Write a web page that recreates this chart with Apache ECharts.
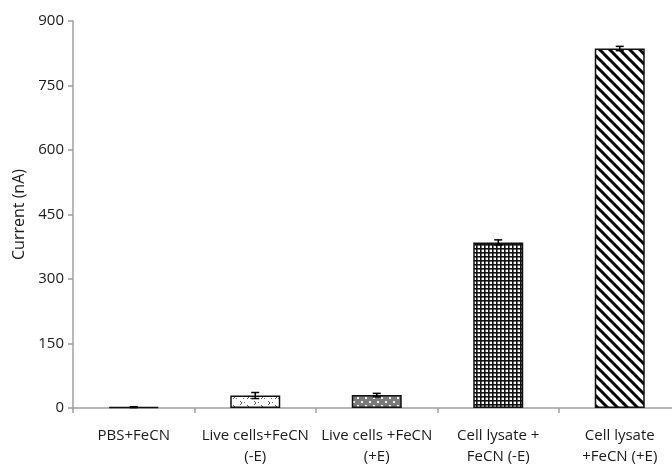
<!DOCTYPE html>
<html>
<head>
<meta charset="utf-8">
<script src="https://cdn.jsdelivr.net/npm/echarts@6/dist/echarts.min.js"></script>
<style>html,body{margin:0;padding:0;background:#fff}#c{width:672px;height:464px}</style>
</head>
<body>
<div id="c"></div>
<script>
const categories = ['PBS+FeCN', 'Live cells+FeCN\n(-E)', 'Live cells +FeCN\n(+E)', 'Cell lysate +\nFeCN (-E)', 'Cell lysate\n+FeCN (+E)'];
const values = [2, 29, 30, 385, 836];
const errors = [1, 7, 4, 6, 5];
const yTicks = { min: 0, max: 900, interval: 150 };

function pattern(w, h, draw) {
  const c = document.createElement('canvas');
  c.width = w; c.height = h;
  const g = c.getContext('2d');
  draw(g, w, h);
  return { image: c, repeat: 'repeat' };
}
const pats = [
  '#333',
  pattern(14, 10, (g) => {
    g.fillStyle = '#fff'; g.fillRect(0, 0, 14, 10);
    g.strokeStyle = '#555'; g.lineWidth = 1;
    g.beginPath(); g.moveTo(2, 1); g.lineTo(4, 3); g.lineTo(2, 5); g.stroke();
    g.beginPath(); g.moveTo(9, 5); g.lineTo(11, 7); g.lineTo(9, 9); g.stroke();
    g.fillStyle = '#666'; g.fillRect(6, 2, 1, 1); g.fillRect(12, 8, 1, 1); g.fillRect(5, 8, 1, 1);
  }),
  pattern(8, 8, (g) => {
    g.fillStyle = '#7a7a7a'; g.fillRect(0, 0, 8, 8);
    g.fillStyle = '#f2f2f2';
    g.fillRect(1, 1, 2, 2); g.fillRect(5, 5, 2, 2);
  }),
  pattern(4, 4, (g) => {
    g.fillStyle = '#fff'; g.fillRect(0, 0, 4, 4);
    g.fillStyle = '#111';
    g.fillRect(0, 0, 4, 1.6); g.fillRect(0, 0, 1.6, 4);
  }),
  pattern(10, 10, (g) => {
    g.fillStyle = '#fff'; g.fillRect(0, 0, 10, 10);
    g.strokeStyle = '#000'; g.lineWidth = 3;
    g.beginPath();
    g.moveTo(-5, -5); g.lineTo(15, 15);
    g.moveTo(-15, -5); g.lineTo(5, 15);
    g.moveTo(5, -5); g.lineTo(25, 15);
    g.stroke();
  })
];

const chart = echarts.init(document.getElementById('c'), null, { renderer: 'canvas' });
const font = '"Open Sans", sans-serif';
chart.setOption({
  animation: false,
  grid: { left: 73, top: 21, bottom: 56, width: 607.5, containLabel: false, outerBoundsMode: 'none' },
  xAxis: {
    type: 'category',
    data: categories,
    axisLine: { lineStyle: { color: '#a0a0a0', width: 1.5 } },
    axisTick: { show: true, length: 5, lineStyle: { color: '#a0a0a0', width: 1.5 } },
    axisLabel: { color: '#1a1a1a', fontSize: 15, fontFamily: font, margin: 17, lineHeight: 21, interval: 0 }
  },
  yAxis: {
    type: 'value',
    min: yTicks.min, max: yTicks.max, interval: yTicks.interval,
    name: 'Current (nA)',
    nameLocation: 'middle',
    nameGap: 39,
    nameTextStyle: { color: '#1a1a1a', fontSize: 16, fontFamily: font },
    axisLine: { show: true, lineStyle: { color: '#a0a0a0', width: 1.5 } },
    axisTick: { show: true, length: 5, lineStyle: { color: '#a0a0a0', width: 1.5 } },
    splitLine: { show: false },
    axisLabel: { color: '#1a1a1a', fontSize: 15, fontFamily: font, margin: 9 }
  },
  series: [
    {
      type: 'bar',
      barWidth: 50,
      data: values.map((v, i) => ({ value: v, itemStyle: { color: pats[i] } })),
      itemStyle: { borderColor: '#111', borderWidth: 1.5 }
    },
    {
      type: 'custom',
      data: values.map((v, i) => [i, v - errors[i], v + errors[i]]),
      renderItem: function (params, api) {
        const lo = api.coord([api.value(0), api.value(1)]);
        const hi = api.coord([api.value(0), api.value(2)]);
        const hw = 4;
        const style = { stroke: '#000', lineWidth: 1.5 };
        return {
          type: 'group',
          children: [
            { type: 'line', shape: { x1: lo[0], y1: lo[1], x2: hi[0], y2: hi[1] }, style },
            { type: 'line', shape: { x1: lo[0] - hw, y1: lo[1], x2: lo[0] + hw, y2: lo[1] }, style },
            { type: 'line', shape: { x1: hi[0] - hw, y1: hi[1], x2: hi[0] + hw, y2: hi[1] }, style }
          ]
        };
      },
      z: 10
    }
  ]
});
</script>
</body>
</html>
